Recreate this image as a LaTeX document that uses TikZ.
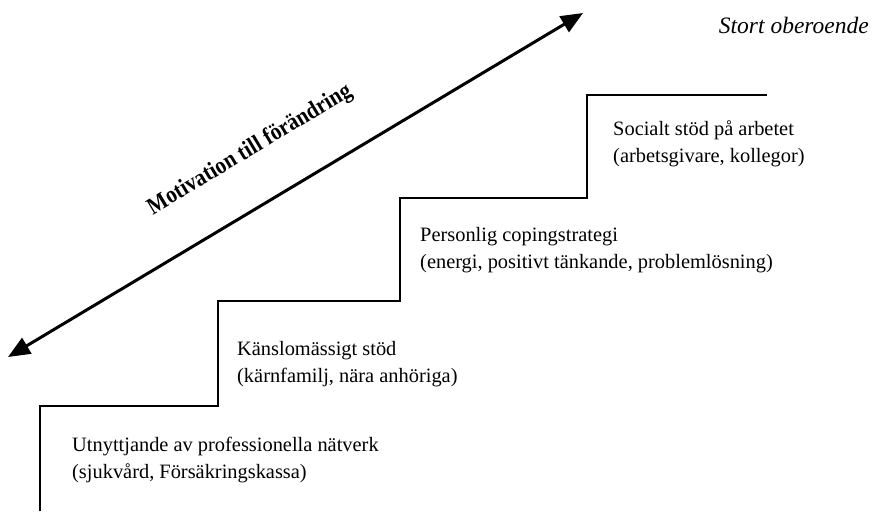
\documentclass[tikz,border=0pt]{standalone}
\usepackage{fontspec}
\setmainfont{Liberation Serif}
\usetikzlibrary{arrows.meta}
\begin{document}
\begin{tikzpicture}[x=1pt,y=-1pt,
  lbl/.style={anchor=west,align=left,inner sep=0pt,font=\fontsize{20.4}{27}\selectfont},
  stair/.style={line width=2.7pt,line join=miter},
  motarrow/.style={line width=3pt,{Triangle[length=22pt,width=18pt]}-{Triangle[length=22pt,width=18pt]}}]
\useasboundingbox (0,0) rectangle (872,511);
\draw[stair] (40,511) -- (40,406) -- (218,406) -- (218,301) -- (400,301) -- (400,198) -- (587,198) -- (587,95) -- (767,95);
\coordinate (a1) at (8,357);
\coordinate (a2) at (583,13);
\draw[motarrow] (a1) -- (a2);
\node[rotate=31,xscale=0.88,inner sep=0pt,font=\bfseries\fontsize{24}{28}\selectfont] (mot) at (250,150) {Motivation till förändring};
\node[anchor=east,inner sep=0pt,font=\itshape\fontsize{23.5}{28}\selectfont] (so) at (869,25) {Stort oberoende};
\node[lbl] (s4) at (613,144) {Socialt stöd på arbetet\\(arbetsgivare, kollegor)};
\node[lbl] (s3) at (420,250) {Personlig copingstrategi\\(energi, positivt tänkande, problemlösning)};
\node[lbl] (s2) at (237,364) {Känslomässigt stöd\\(kärnfamilj, nära anhöriga)};
\node[lbl] (s1) at (72,460) {Utnyttjande av professionella nätverk\\(sjukvård, Försäkringskassa)};
\end{tikzpicture}
\end{document}
